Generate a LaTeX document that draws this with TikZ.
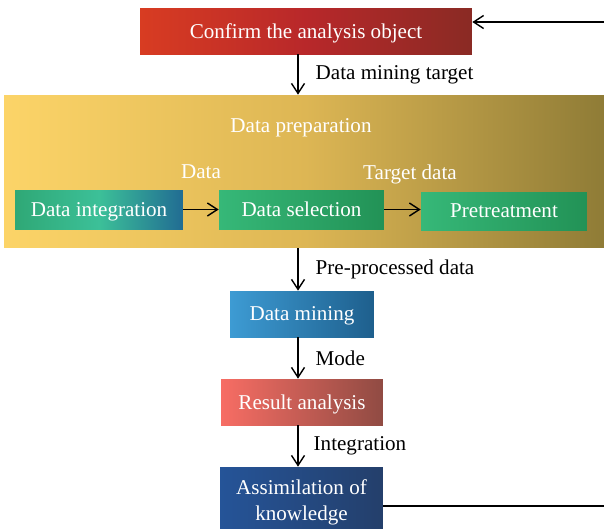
\documentclass[tikz,border=0pt]{standalone}
\usepackage{fontspec}
\setmainfont{Liberation Serif}
\usetikzlibrary{arrows.meta,positioning}
\definecolor{confirmL}{HTML}{D83C22}
\definecolor{confirmM}{HTML}{B8282A}
\definecolor{confirmR}{HTML}{8A2A24}
\definecolor{prepL}{HTML}{FCD468}
\definecolor{prepM}{HTML}{DDB654}
\definecolor{prepR}{HTML}{8E7B36}
\definecolor{integL}{HTML}{2FA876}
\definecolor{integM}{HTML}{3CC098}
\definecolor{integR}{HTML}{216C93}
\definecolor{greenL}{HTML}{36B878}
\definecolor{greenR}{HTML}{229256}
\definecolor{miningL}{HTML}{3D9BD3}
\definecolor{miningR}{HTML}{1E5F8D}
\definecolor{resultL}{HTML}{F76D64}
\definecolor{resultR}{HTML}{904B43}
\definecolor{assimL}{HTML}{255498}
\definecolor{assimR}{HTML}{243F6B}

\begin{document}
\begin{tikzpicture}[x=0.02cm,y=-0.02cm,
		box/.style={inner sep=0pt, text=white, align=center, text depth=0pt, font=\fontsize{12}{14.5}\selectfont},
		lbl/.style={inner sep=0pt, font=\fontsize{12}{14.5}\selectfont},
		flow/.style={thick,-{Straight Barb[length=0.2cm,width=0.26cm]}}]
		\useasboundingbox (0,0) rectangle (604,528);
		% data preparation block
		\node[box, minimum width=12.08cm, minimum height=3.06cm, left color=prepL, right color=prepR, middle color=prepM] (prep) at (306,171.5) {};
		\node[box] (preptitle) at (301,126) {Data preparation};
		\node[box, minimum width=3.36cm, minimum height=0.78cm, left color=integL, right color=integR, middle color=integM] (integ) at (99,209.5) {Data integration};
		\node[box, minimum width=3.3cm, minimum height=0.78cm, left color=greenL, right color=greenR] (select) at (301.5,209.5) {Data selection};
		\node[box, minimum width=3.32cm, minimum height=0.76cm, left color=greenL, right color=greenR] (pretreat) at (504,211) {Pretreatment};
		\node[box] (datalbl) at (201,172) {Data};
		\node[box] (targetlbl) at (410,172) {Target data};
		% main chain
		\node[box, minimum width=6.64cm, minimum height=0.92cm, left color=confirmL, right color=confirmR, middle color=confirmM] (confirm) at (306,31) {Confirm the analysis object};
		\node[box, minimum width=2.88cm, minimum height=0.92cm, left color=miningL, right color=miningR] (mining) at (302,314) {Data mining};
		\node[box, minimum width=3.24cm, minimum height=0.92cm, left color=resultL, right color=resultR] (result) at (302,402) {Result analysis};
		\node[box, minimum width=3.26cm, minimum height=1.56cm, left color=assimL, right color=assimR] (assim) at (301.5,506) {};
		\node[box] (assimtxt) at (301.5,500) {Assimilation of\\knowledge};
		\coordinate (axis) at (298,0);
		\coordinate (back) at (625,0);
		% connectors
		\draw[flow] (confirm.south -| axis) -- node[lbl, right=0.34cm] (lbl1) {Data mining target} (prep.north -| axis);
		\draw[flow] (prep.south -| axis) -- node[lbl, right=0.34cm] (lbl2) {Pre-processed data} (mining.north -| axis);
		\draw[flow] (mining.south -| axis) -- node[lbl, right=0.34cm] (lbl3) {Mode} (result.north -| axis);
		\draw[flow] (result.south -| axis) -- node[lbl, right=0.3cm] (lbl4) {Integration} (assim.north -| axis);
		\draw[flow] (integ) -- (select);
		\draw[flow] (select) -- (pretreat.west |- select);
		\draw[flow] (assim.east) -- (assim.east -| back) |- ([yshift=0.18cm]confirm.east);
	\end{tikzpicture}
\end{document}
